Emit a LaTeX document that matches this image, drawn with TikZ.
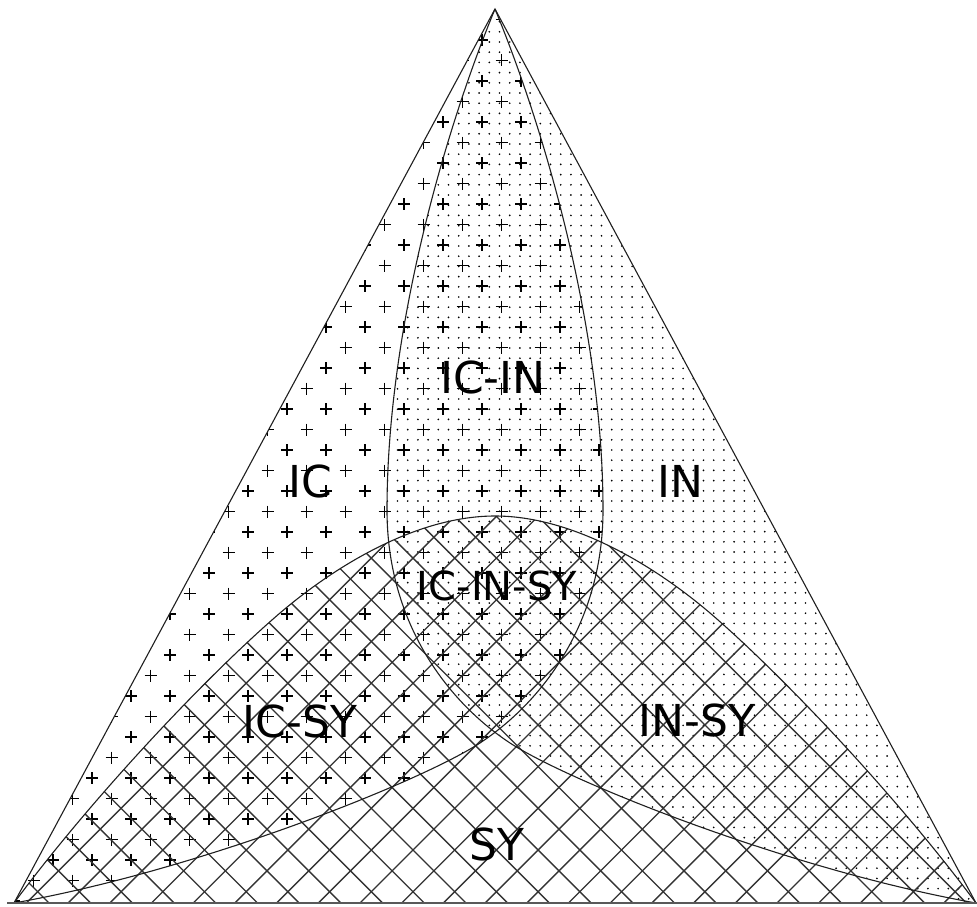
\documentclass[tikz,border=0pt]{standalone}
\usepackage{fontspec}
\setmainfont{DejaVu Sans}
\begin{document}
\begin{tikzpicture}[x=1pt,y=-1pt,
  outline/.style={draw=black!88,line width=1.1pt},
  baseline/.style={draw=black!65,line width=2.2pt},
  hatchline/.style={draw=black!80,line width=1.35pt},
  plusmark/.style={draw=black,line width=1.35pt},
  dotmark/.style={fill=black},
  lab/.style={font=\fontsize{44}{44}\selectfont,inner sep=0pt,anchor=base,text=black},
  smalllab/.style={lab,font=\fontsize{40}{40}\selectfont}]
\useasboundingbox (0,0) rectangle (977,907);
\def\ICcurve{(495,9) .. controls (545,130) and (603,330) .. (603,510) .. controls (603,620) and (545,700) .. (480,743) .. controls (420,782) and (200,870) .. (14,903)}
\def\INcurve{(495,9) .. controls (445,130) and (387,330) .. (387,510) .. controls (387,620) and (445,700) .. (510,743) .. controls (570,782) and (790,870) .. (976,903)}
\def\SYcurve{(14,903) .. controls (94,795) and (210,673) .. (280,613) .. controls (340,562) and (420,516) .. (495,516) .. controls (570,516) and (650,562) .. (710,613) .. controls (780,673) and (896,795) .. (976,903)}
% IN region: dots
\begin{scope}
  \clip \INcurve -- cycle;
  \foreach \j in {-44,...,44} {
    \pgfmathsetmacro\py{450+10.2*\j}
    \pgfmathsetmacro\xr{495+(\py-9)*0.539+4}
    \foreach \i in {-23,...,37} {
      \pgfmathsetmacro\px{611.7+10.2*\i}
      \ifdim\px pt<\xr pt \ifdim\px pt>380pt \fill[dotmark] (\px,\py) circle (0.95); \fi\fi
    }
  }
\end{scope}
% IC region: plus signs
\begin{scope}
  \clip \ICcurve -- cycle;
  \foreach \j in {0,...,44} {
    \pgfmathsetmacro\py{-1+20.5*\j}
    \pgfmathsetmacro\off{287+19.5*mod(\j,2)}
    \foreach \m in {-8,...,8} {
      \pgfmathsetmacro\px{\off+39*\m}
      \draw[plusmark] (\px-6,\py) -- (\px+6,\py) (\px,\py-6) -- (\px,\py+6);
    }
  }
\end{scope}
% SY region: crosshatch
\begin{scope}
  \clip \SYcurve -- cycle;
  \foreach \k in {-27,...,8} {
    \pgfmathsetmacro\s{1596.6+41.7*\k}
    \draw[hatchline] (\s-510,510) -- (\s-910,910);
  }
  \foreach \m in {-22,...,12} {
    \pgfmathsetmacro\d{-20+41.7*\m}
    \draw[hatchline] (\d+510,510) -- (\d+910,910);
  }
\end{scope}
% outlines
\draw[outline] \ICcurve;
\draw[outline] \INcurve;
\draw[outline] \SYcurve;
\draw[outline] (14,903) -- (495,9) -- (976,903);
\draw[baseline] (7,903) -- (977,903);
% labels
\node[lab] (lIC) at (310,497) {IC};
\node[lab] (lIN) at (680,497) {IN};
\node[lab] (lICIN) at (493,393) {IC-IN};
\node[smalllab] (lICINSY) at (497,600) {IC-IN-SY};
\node[lab] (lICSY) at (300,737) {IC-SY};
\node[lab] (lINSY) at (697,736) {IN-SY};
\node[lab] (lSY) at (497,860) {SY};
\end{tikzpicture}
\end{document}
